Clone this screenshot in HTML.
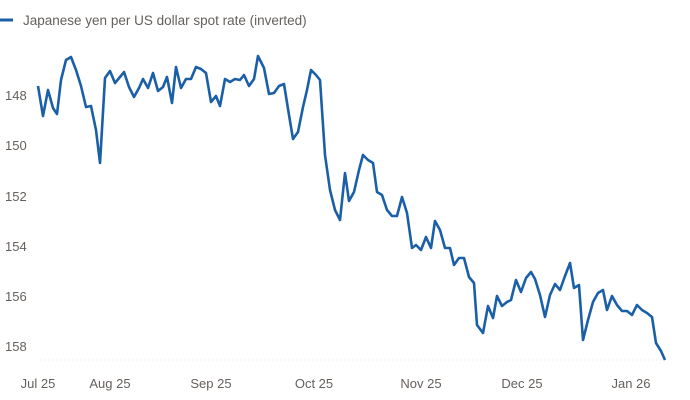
<!DOCTYPE html>
<html><head><meta charset="utf-8"><style>
html,body{margin:0;padding:0;background:#fff;width:690px;height:400px;overflow:hidden}
svg text{font-family:"Liberation Sans",sans-serif;fill:#66605c;font-size:13px}
</style></head><body>
<svg width="690" height="400" viewBox="0 0 690 400">
<line x1="0" y1="20" x2="13" y2="20" stroke="#1a5fa8" stroke-width="3"/>
<text x="23" y="25" style="font-size:13.5px">Japanese yen per US dollar spot rate (inverted)</text>
<text x="5" y="100">148</text>
<text x="5" y="150">150</text>
<text x="5" y="201">152</text>
<text x="5" y="251">154</text>
<text x="5" y="301">156</text>
<text x="5" y="351">158</text>
<line x1="40" y1="360" x2="668" y2="360" stroke="#e8e4e0" stroke-width="1" stroke-dasharray="1,3"/>
<g text-anchor="middle">
<text x="38" y="388">Jul 25</text>
<text x="110" y="388">Aug 25</text>
<text x="211" y="388">Sep 25</text>
<text x="314" y="388">Oct 25</text>
<text x="421" y="388">Nov 25</text>
<text x="522" y="388">Dec 25</text>
<text x="631" y="388">Jan 26</text>
</g>
<polyline fill="none" stroke="#1a5fa8" stroke-width="2.6" stroke-linejoin="round" points="38,86 43,116 48,90 53,108 57,114 61,80 66,60 71,57 76,70 81,86 86,107 91,106 96,130 100,163 105,78 110,71 115,83 120,77 124,72 129,87 134,97 139,88 143,79 148,88 153,73 158,91 163,87 167,77 172,103 176,67 181,88 186,79 191,79 196,67 201,69 206,73 211,102 216,96 220,106 225,79 230,82 235,79 240,80 244,75 249,86 254,79 258,56 264,68 269,94 274,93 279,86 284,84 289,115 293,139 298,132 303,107 307,90 311,70 316,75 320,80 325,155 330,190 335,210 340,220 345,173 349,201 354,192 359,170 363,155 368,160 373,163 377,192 382,195 387,210 392,216 397,216 402,197 407,213 412,248 416,245 421,250 426,237 431,248 435,221 440,230 445,248 450,248 454,265 459,258 464,258 469,277 474,283 477,325 483,333 488,306 493,318 497,296 502,306 507,302 511,300 516,280 521,292 526,278 531,272 535,279 540,295 545,317 550,295 555,284 560,290 565,276 570,263 574,288 579,285 583,340 588,320 593,302 598,293 603,290 607,310 612,296 617,305 622,311 627,311 632,315 637,305 642,310 647,313 652,317 656,343 661,351 665,360"/>
</svg>
</body></html>
